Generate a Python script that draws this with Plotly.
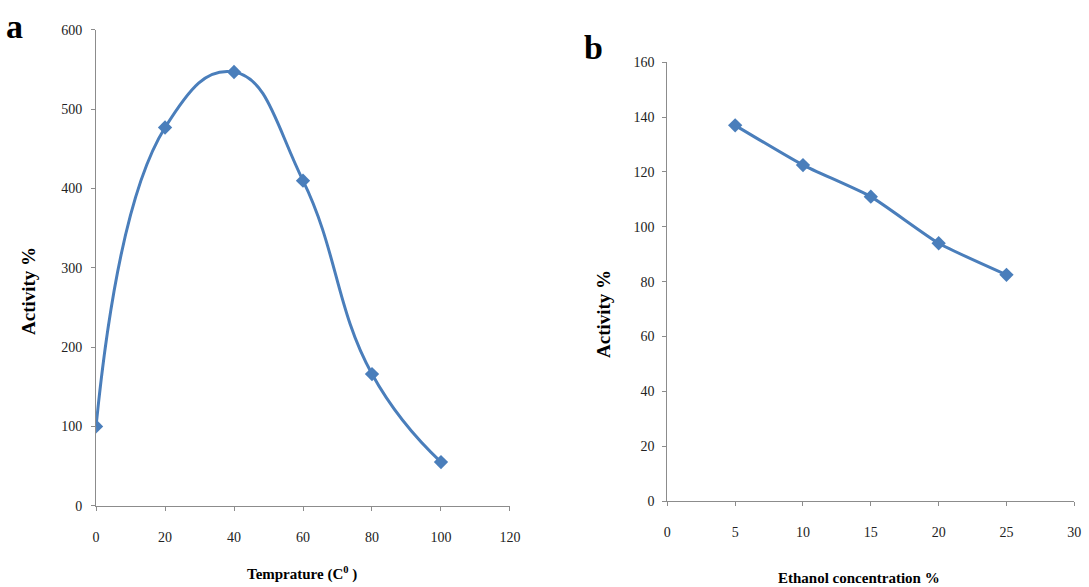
import plotly.graph_objects as go

# Panel a: activity vs temperature
temperature = [0, 20, 40, 60, 80, 100]
activity_temp = [100, 477, 547, 410, 166, 55]

# Panel b: activity vs ethanol concentration
ethanol = [5, 10, 15, 20, 25]
activity_ethanol = [137, 122.5, 111, 94, 82.5]

BLUE = "#4a7ebb"
AXIS_GRAY = "#8c8c8c"
SERIF = "Liberation Serif, Times New Roman, serif"

fig = go.Figure()

fig.add_trace(go.Scatter(
    x=temperature, y=activity_temp, mode="lines+markers",
    line=dict(color=BLUE, width=3, shape="spline", smoothing=1.3),
    marker=dict(symbol="diamond", size=11, color=BLUE),
    xaxis="x", yaxis="y", showlegend=False,
))

fig.add_trace(go.Scatter(
    x=ethanol, y=activity_ethanol, mode="lines+markers",
    line=dict(color=BLUE, width=3, shape="spline", smoothing=0.5),
    marker=dict(symbol="diamond", size=11, color=BLUE),
    xaxis="x2", yaxis="y2", showlegend=False,
))

tick_font = dict(family=SERIF, size=14, color="#222222")

common_axis = dict(
    showline=True, linecolor=AXIS_GRAY, linewidth=1,
    ticks="outside", tickcolor=AXIS_GRAY, ticklen=4, tickwidth=1,
    showgrid=False, zeroline=False, tickfont=tick_font,
    fixedrange=True, automargin=False,
)

fig.update_layout(
    template="none",
    width=1089, height=587,
    margin=dict(l=0, r=0, t=0, b=0),
    paper_bgcolor="white", plot_bgcolor="white",
    xaxis=dict(domain=[0.0882, 0.4683], range=[0, 120], tickvals=[0, 20, 40, 60, 80, 100, 120],
               anchor="y", ticklabelstandoff=14, **common_axis),
    yaxis=dict(domain=[0.1385, 0.9489], range=[0, 600], tickvals=[0, 100, 200, 300, 400, 500, 600],
               anchor="x", ticklabelstandoff=6, **common_axis),
    xaxis2=dict(domain=[0.6128, 0.9865], range=[0, 30], tickvals=[0, 5, 10, 15, 20, 25, 30],
                anchor="y2", ticklabelstandoff=14, **common_axis),
    yaxis2=dict(domain=[0.1465, 0.8939], range=[0, 160], tickvals=[0, 20, 40, 60, 80, 100, 120, 140, 160],
                anchor="x2", ticklabelstandoff=5, **common_axis),
)

def note(text, x, y, size, angle=0):
    fig.add_annotation(
        text=text, x=x, y=y, xref="paper", yref="paper",
        xanchor="center", yanchor="middle", showarrow=False,
        textangle=angle, font=dict(family=SERIF, size=size, color="black"),
    )

# panel letters
note("<b>a</b>", 14 / 1089, 1 - 26 / 587, 34)
note("<b>b</b>", 593 / 1089, 1 - 48 / 587, 34)

# axis titles
note("<b>Activity %</b>", 28 / 1089, 1 - 291 / 587, 19, -90)
note("<b>Activity %</b>", 603 / 1089, 1 - 314 / 587, 19, -90)
note("<b>Temprature (C<sup>0</sup> )</b>", 302 / 1089, 1 - 573 / 587, 15)
note("<b>Ethanol concentration %</b>", 859 / 1089, 1 - 578 / 587, 15)

fig.write_html("out.html")
